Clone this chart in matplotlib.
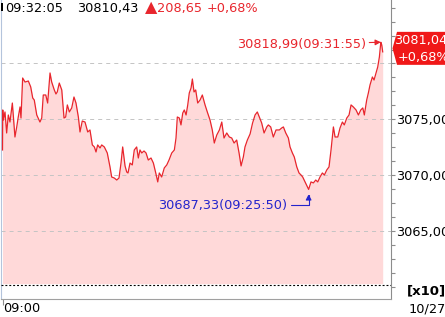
import matplotlib
matplotlib.use("Agg")
import matplotlib.pyplot as plt
import numpy as np
from matplotlib.patches import Polygon, Rectangle
from matplotlib.ticker import FuncFormatter
from matplotlib.transforms import IdentityTransform

# minutes after 09:00, index value (x10 scale)
minutes = [
    0.00, 0.02, 0.07, 0.21, 0.35, 0.49, 0.63, 0.83, 1.05, 1.20,
    1.33, 1.48, 1.56, 1.70, 1.90, 2.18, 2.38, 2.55, 2.68, 2.89,
    3.16, 3.31, 3.44, 3.65, 3.81, 4.01, 4.15, 4.37, 4.51, 4.62,
    4.79, 5.00, 5.19, 5.33, 5.47, 5.64, 5.84, 6.03, 6.20, 6.40,
    6.54, 6.73, 6.96, 7.19, 7.38, 7.58, 7.75, 7.89, 8.03, 8.23,
    8.37, 8.59, 8.84, 9.07, 9.21, 9.43, 9.64, 9.83, 10.00, 10.14,
    10.34, 10.48, 10.59, 10.76, 10.95, 11.12, 11.32, 11.46, 11.60, 11.75,
    11.94, 12.11, 12.30, 12.53, 12.73, 12.93, 13.10, 13.23, 13.43, 13.65,
    13.86, 14.05, 14.28, 14.50, 14.64, 14.75, 14.92, 15.06, 15.21, 15.34,
    15.49, 15.63, 15.76, 15.91, 16.02, 16.16, 16.30, 16.47, 16.67, 16.86,
    17.09, 17.28, 17.51, 17.70, 17.87, 18.08, 18.30, 18.50, 18.69, 18.92,
    19.14, 19.34, 19.54, 19.76, 19.96, 20.13, 20.32, 20.46, 20.66, 20.89,
    21.10, 21.31, 21.50, 21.67, 21.87, 22.07, 22.30, 22.43, 22.63, 22.85,
    23.08, 23.36, 23.56, 23.70, 23.90, 24.12, 24.26, 24.46, 24.62, 24.83,
    25.02, 25.19, 25.33, 25.53, 25.83, 25.95, 26.03, 26.23, 26.43, 26.60,
    26.79, 26.99, 27.16, 27.36, 27.55, 27.72, 27.92, 28.06, 28.29, 28.48,
    28.68, 28.84, 29.05, 29.24, 29.41, 29.60, 29.83, 30.03, 30.23, 30.40,
    30.53, 30.73, 30.87, 31.01, 31.21, 31.35, 31.52, 31.66, 31.80, 31.92,
    32.00, 32.08,
]
values = [
    3072.26, 3075.84, 3074.94, 3075.66, 3073.78, 3075.39, 3074.76, 3076.46, 3073.42, 3074.32,
    3075.21, 3076.11, 3075.12, 3078.70, 3078.34, 3078.43, 3077.90, 3076.91, 3076.73, 3075.39,
    3074.76, 3075.12, 3077.18, 3077.18, 3076.46, 3079.15, 3078.34, 3077.63, 3077.27, 3077.45,
    3078.25, 3077.63, 3075.12, 3075.21, 3076.29, 3075.66, 3076.02, 3077.00, 3076.46, 3075.21,
    3073.87, 3074.85, 3074.76, 3073.87, 3074.05, 3072.71, 3072.53, 3072.08, 3072.71, 3072.44,
    3072.71, 3072.53, 3071.99, 3070.74, 3069.84, 3069.75, 3069.57, 3069.75, 3071.09, 3072.53,
    3070.83, 3070.29, 3070.20, 3071.09, 3070.92, 3072.26, 3072.53, 3071.54, 3072.26, 3071.99,
    3072.17, 3071.99, 3071.36, 3071.54, 3071.09, 3070.20, 3069.40, 3070.20, 3069.84, 3070.65,
    3070.92, 3071.36, 3071.99, 3072.26, 3073.33, 3075.21, 3075.12, 3074.50, 3075.57, 3075.84,
    3075.39, 3076.29, 3077.36, 3077.81, 3078.61, 3077.45, 3077.63, 3076.46, 3076.73, 3077.18,
    3076.29, 3075.66, 3074.94, 3074.05, 3072.88, 3073.60, 3074.05, 3074.76, 3073.33, 3073.78,
    3073.42, 3073.33, 3072.88, 3073.15, 3071.99, 3070.83, 3071.63, 3072.53, 3073.15, 3073.69,
    3074.67, 3075.39, 3075.66, 3075.21, 3074.67, 3073.78, 3074.32, 3074.50, 3074.32, 3073.42,
    3074.05, 3074.05, 3074.23, 3074.32, 3073.78, 3073.33, 3072.53, 3071.99, 3071.63, 3070.74,
    3070.20, 3070.02, 3069.84, 3069.40, 3068.73, 3069.13, 3069.40, 3069.31, 3069.57, 3069.40,
    3069.84, 3070.20, 3070.02, 3070.47, 3070.74, 3072.26, 3074.32, 3073.42, 3073.42, 3074.23,
    3074.76, 3074.50, 3075.12, 3075.39, 3076.29, 3076.11, 3075.84, 3075.39, 3075.84, 3076.02,
    3075.39, 3076.73, 3077.36, 3078.08, 3078.79, 3078.52, 3079.15, 3079.69, 3080.58, 3081.90,
    3081.66, 3081.04,
]

grid_levels = [3065, 3070, 3075, 3080]
labelled_levels = [3065, 3070, 3075]
header = ["09:32:05", "30810,43", "\u25b2", "208,65", "+0,68%"]
high_label = "30818,99(09:31:55)"
low_label = "30687,33(09:25:50)"
last_label = ["3081,04", "+0,68%"]

RED = "#e8262d"
BLUE = "#2424cc"
FILL = "#ffd9d9"
GRAY = "#8c8c8c"
W, H = 445, 317
FS = 9.3

plt.rcParams["font.family"] = "DejaVu Sans"
plt.rcParams["lines.scale_dashes"] = False


def fx(x):
    return x / W


def fy(y):
    return 1 - y / H


fig = plt.figure(figsize=(W / 100, H / 100), dpi=100)
ax = fig.add_axes([fx(1), fy(298.7), 390 / W, 298.7 / H])

t = np.array(minutes)
v = np.array(values)
base = 3060.3
ax.fill_between(t, v, base, color=FILL, lw=0, zorder=1)
ax.plot(t, v, color=RED, lw=0.9, zorder=3)

ax.set_xlim(-0.127, 32.78)
ax.set_ylim(3058.95, 3085.68)

# dashed grid + dotted base line
for yv in grid_levels:
    ax.axhline(yv, color="#c4c4c4", lw=0.7, ls=(0, (2.9, 2.9)), zorder=2)
ax.axhline(3060.15, color="black", lw=0.8, ls=(0, (1.4, 1.4)), zorder=4)

ax.yaxis.tick_right()
ax.set_yticks(grid_levels)
ax.set_yticks(np.arange(3060, 3086, 1.25), minor=True)


def fmt(val, pos):
    if round(val) not in labelled_levels:
        return ""
    return f"{val:.2f}".replace(".", ",")


ax.yaxis.set_major_formatter(FuncFormatter(fmt))
ax.tick_params(axis="y", which="both", direction="out", length=2.9, width=0.8,
               color=GRAY, pad=0.6, labelsize=FS, labelcolor="black")
ax.set_xticks([0])
ax.set_xticklabels([""])
ax.tick_params(axis="x", direction="out", length=4.3, width=0.8, color=GRAY)

ax.spines["top"].set_visible(False)
ax.spines["left"].set_color("#b4c4dc")
ax.spines["right"].set_color(GRAY)
ax.spines["bottom"].set_color("#a0a0a0")
for s in ["left", "right", "bottom"]:
    ax.spines[s].set_linewidth(0.8)

# high / low annotations
i_hi = int(np.argmax(v))
i_lo = int(np.argmin(v))
ax.annotate(high_label, xy=(t[i_hi], v[i_hi]), xytext=(-15, -2), textcoords="offset pixels",
            ha="right", va="center", color=RED, fontsize=FS, zorder=6,
            arrowprops=dict(arrowstyle="-|>,head_length=0.35,head_width=0.18", color=RED,
                            lw=0.8, shrinkA=0.5, shrinkB=0))
ax.annotate(low_label, xy=(t[i_lo], v[i_lo]), xytext=(-21, -16), textcoords="offset pixels",
            ha="right", va="center", color=BLUE, fontsize=FS, zorder=6,
            arrowprops=dict(arrowstyle="-|>,head_length=0.35,head_width=0.18", color=BLUE,
                            lw=0.8, shrinkA=0.5, shrinkB=3.5,
                            connectionstyle="angle,angleA=0,angleB=90,rad=0"))

# header
fig.patches.append(Rectangle((fx(1), fy(11)), 2 / W, 8 / H, transform=fig.transFigure,
                             color="black", lw=0))
fig.text(fx(5), fy(8.3), header[0], ha="left", va="center", fontsize=FS, color="black")
fig.text(fx(77), fy(8.3), header[1], ha="left", va="center", fontsize=FS, color="black")
fig.text(fx(145), fy(8.0), header[2], ha="left", va="center", fontsize=11.5, color=RED)
fig.text(fx(157), fy(8.3), header[3], ha="left", va="center", fontsize=FS, color=RED)
fig.text(fx(207), fy(8.3), header[4], ha="left", va="center", fontsize=FS, color=RED)

# current value box on the right axis
fig.canvas.draw()
yd = ax.transData.transform((0, v[-1]))[1]
cy = yd + 3.5
box = Polygon([(397, cy + 16.5), (392.5, cy), (397, cy - 16.5), (W + 5, cy - 16.5), (W + 5, cy + 16.5)],
              closed=True, transform=IdentityTransform(), color="#f01818", lw=0, zorder=10)
fig.patches.append(box)
fig.text(394 / W, (cy + 8) / H, last_label[0], ha="left", va="center", fontsize=FS,
         color="white", zorder=11)
fig.text(398 / W, (cy - 9.5) / H, last_label[1], ha="left", va="center", fontsize=FS,
         color="white", zorder=11)

fig.text(fx(446), fy(291), "[x10]", ha="right", va="center", fontsize=9.5,
         fontweight="bold", color="black")
fig.text(fx(3), fy(309), "09:00", ha="left", va="center", fontsize=FS, color="black")
fig.text(fx(446), fy(309), "10/27", ha="right", va="center", fontsize=FS, color="black")

fig.savefig("out.png", dpi=100)
